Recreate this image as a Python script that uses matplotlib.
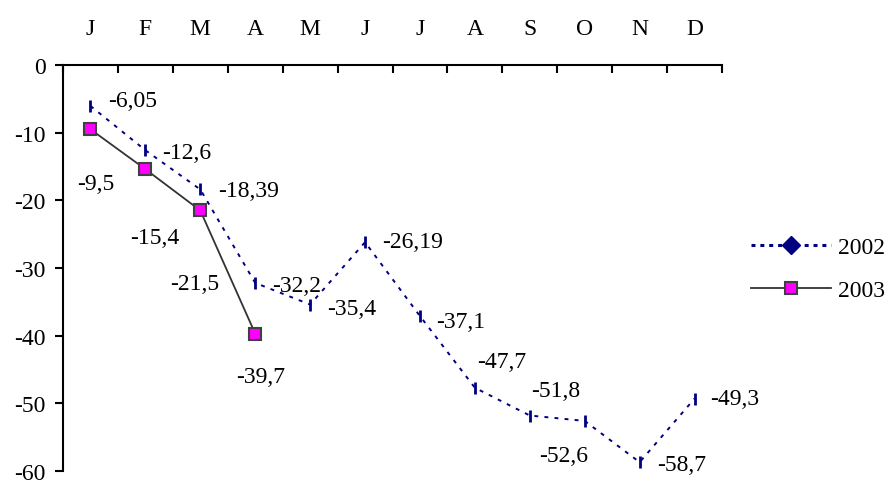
import matplotlib
matplotlib.use("Agg")
import matplotlib.pyplot as plt
from matplotlib.lines import Line2D

plt.rcParams['font.family'] = ['Liberation Serif', 'DejaVu Serif']

months = ["J", "F", "M", "A", "M", "J", "J", "A", "S", "O", "N", "D"]
values_2002 = [-6.05, -12.6, -18.39, -32.2, -35.4, -26.19, -37.1, -47.7, -51.8, -52.6, -58.7, -49.3]
labels_2002 = ["-6,05", "-12,6", "-18,39", "-32,2", "-35,4", "-26,19", "-37,1", "-47,7", "-51,8", "-52,6", "-58,7", "-49,3"]
values_2003 = [-9.5, -15.4, -21.5, -39.7]
labels_2003 = ["-9,5", "-15,4", "-21,5", "-39,7"]
yticks = [0, -10, -20, -30, -40, -50, -60]

# label placement (pixel offsets from each point)
offsets_2002 = [(18, 5, 'left'), (17, -2, 'left'), (18, -1, 'left'), (17, -3, 'left'),
                (17, -4, 'left'), (17, 1, 'left'), (16, -5, 'left'), (2, 26, 'left'),
                (1, 25, 'left'), (-46, -35, 'left'), (17, -2, 'left'), (16, 0, 'left')]
offsets_2003 = [(5, -54, 'center'), (9, -68, 'center'), (-6, -73, 'center'), (5, -43, 'center')]

NAVY = "#000080"
GREY = "#333333"
MAGENTA = "#FF00FF"
FS = 17

fig = plt.figure(figsize=(8.88, 4.81), dpi=100)
W, H = 888, 481
ax = fig.add_axes([63 / W, 1 - 472 / H, (722 - 63) / W, (472 - 66) / H])

x2002 = list(range(len(values_2002)))
x2003 = list(range(len(values_2003)))

ax.plot(x2002, values_2002, color=NAVY, lw=1.4, linestyle=(0, (2, 3.2)),
        marker='|', markersize=9, markeredgewidth=2, zorder=3)
ax.plot(x2003, values_2003, color=GREY, lw=1.3, linestyle='-',
        marker='s', markersize=9, markerfacecolor=MAGENTA,
        markeredgecolor="#404040", markeredgewidth=1.5, zorder=4)

for xi, v, lab, (dx, dy, ha) in zip(x2002, values_2002, labels_2002, offsets_2002):
    ax.annotate(lab, (xi, v), xytext=(dx, dy), textcoords='offset pixels',
                ha=ha, va='center', fontsize=FS, color='black', annotation_clip=False)
for xi, v, lab, (dx, dy, ha) in zip(x2003, values_2003, labels_2003, offsets_2003):
    ax.annotate(lab, (xi, v), xytext=(dx, dy), textcoords='offset pixels',
                ha=ha, va='center', fontsize=FS, color='black', annotation_clip=False)

ax.set_xlim(-0.5, len(months) - 0.5)
ax.set_ylim(-60, 0)

for side in ('right', 'bottom'):
    ax.spines[side].set_visible(False)
for side in ('left', 'top'):
    ax.spines[side].set_linewidth(1.5)
    ax.spines[side].set_color('black')

ax.xaxis.tick_top()
ax.set_xticks([i - 0.5 for i in range(len(months) + 1)])
ax.set_xticklabels([])
ax.set_xticks(list(range(len(months))), minor=True)
ax.set_xticklabels(months, minor=True, fontsize=FS)
ax.tick_params(axis='x', which='major', direction='in', length=5.5, width=1.5, top=True, bottom=False)
ax.tick_params(axis='x', which='minor', length=0, pad=19, top=True, bottom=False)

ax.set_yticks(yticks)
ax.set_yticklabels([str(t) for t in yticks], fontsize=FS)
ax.tick_params(axis='y', direction='out', length=5.5, width=1.5, pad=7)

handles = [
    Line2D([], [], color=NAVY, lw=2.2, linestyle=(0, (1.3, 1.6)), marker='D',
           markersize=9, markerfacecolor=NAVY, markeredgecolor=NAVY),
    Line2D([], [], color=GREY, lw=1.3, marker='s', markersize=9,
           markerfacecolor=MAGENTA, markeredgecolor="#404040", markeredgewidth=1.5),
]
fig.legend(handles, ["2002", "2003"], loc='center left',
           bbox_to_anchor=(751 / W, 1 - 270 / H), frameon=False, fontsize=FS,
           handlelength=3.4, handletextpad=0.3, labelspacing=0.9, borderaxespad=0,
           borderpad=0)

fig.savefig("out.png", dpi=100)
